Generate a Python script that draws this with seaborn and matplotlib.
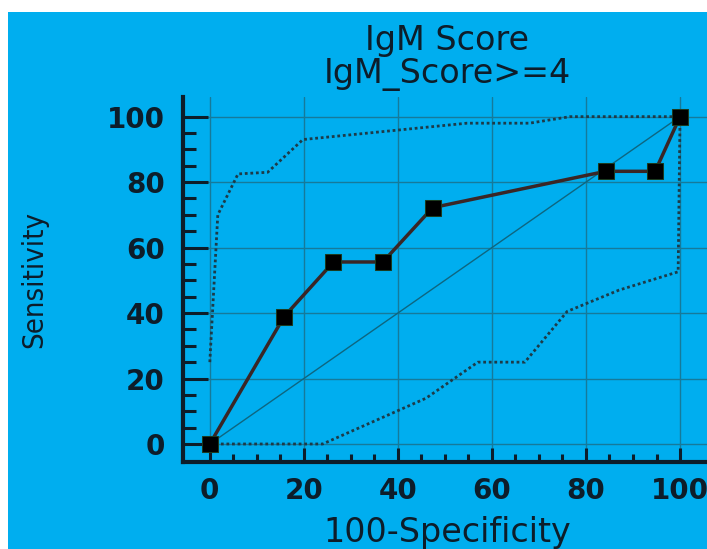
import numpy as np
import pandas as pd
import matplotlib.pyplot as plt
import seaborn as sns
from matplotlib.patches import Rectangle
from matplotlib.ticker import FixedLocator
from matplotlib import font_manager

# ROC curve points (100-Specificity, Sensitivity)
roc_x = [0, 15.8, 26.3, 36.8, 47.4, 84.2, 94.7, 100]
roc_y = [0, 38.9, 55.6, 55.6, 72.2, 83.3, 83.3, 100]

# confidence bounds (dotted)
upper_x = [0, 1.7, 6.0, 12.3, 19.8, 54.7, 68.0, 76.6, 100]
upper_y = [25, 70, 82.5, 83, 93, 98, 98, 100, 100]
lower_x = [0, 24, 46, 57, 67, 76, 87, 99.6, 100]
lower_y = [0, 0, 14, 25, 25, 40.5, 47, 52.6, 100]

diag = [0, 100]
ticks = [0, 20, 40, 60, 80, 100]
minor_ticks = [5, 10, 15, 25, 30, 35, 45, 50, 55, 65, 70, 75, 85, 90, 95]

blue = '#00AEEF'
ink = '#0d1d2a'
gridc = '#167a9a'

sns.set_style('ticks')
plt.rcParams['font.family'] = ['DejaVu Sans']

# upright condensed face for the y label, if one is installed
narrow = None
for f in font_manager.fontManager.ttflist:
    if ('Narrow' in f.name or 'Condensed' in f.fname or f.stretch in ('condensed', 'semi-condensed')) \
            and f.style == 'normal' and f.weight in (400, 'normal', 'regular') \
            and 'Mono' not in f.name and 'Serif' not in f.name:
        narrow = f.fname
        break

fig = plt.figure(figsize=(7.07, 5.49), dpi=100, facecolor='white')
fig.patches.append(Rectangle((8/707, 0), 1, 1 - 12/549, transform=fig.transFigure,
                             facecolor=blue, edgecolor='none', zorder=-10))
ax = fig.add_axes([183/707, 87/549, 529/707, 365/549])
ax.set_facecolor(blue)

ax.plot(diag, diag, color='#0e6680', lw=1, zorder=2)
sns.lineplot(x=upper_x, y=upper_y, estimator=None, sort=False, ax=ax,
             color='#1d3b48', lw=2, linestyle=(0, (1, 1)), zorder=3)
sns.lineplot(x=lower_x, y=lower_y, estimator=None, sort=False, ax=ax,
             color='#1d3b48', lw=2, linestyle=(0, (1, 1)), zorder=3)
sns.lineplot(x=roc_x, y=roc_y, estimator=None, sort=False, ax=ax,
             color='#3a2626', lw=2.5, marker='s', markersize=11,
             markerfacecolor='black', markeredgecolor='#1a3a20', zorder=5)

ax.set_xlim(-5.7, 106.8)
ax.set_ylim(-5.5, 106)
ax.set_xticks(ticks)
ax.set_yticks(ticks)
ax.xaxis.set_minor_locator(FixedLocator(minor_ticks))
ax.yaxis.set_minor_locator(FixedLocator(minor_ticks))
ax.grid(True, which='major', color=gridc, lw=1)

for s in ['top', 'right']:
    ax.spines[s].set_visible(False)
for s in ['left', 'bottom']:
    ax.spines[s].set_color(ink)
    ax.spines[s].set_linewidth(3)

ax.tick_params(axis='y', which='major', direction='in', length=18, width=2.2,
               color=ink, pad=13, labelsize=20, labelcolor=ink)
ax.tick_params(axis='y', which='minor', direction='in', length=9, width=2.2, color=ink)
ax.tick_params(axis='x', which='major', direction='in', length=10, width=2.2,
               color=ink, pad=11, labelsize=20, labelcolor=ink)
ax.tick_params(axis='x', which='minor', direction='in', length=6, width=2.2, color=ink)
for lab in ax.get_xticklabels() + ax.get_yticklabels():
    lab.set_fontweight('bold')

ax.set_xlabel('100-Specificity', fontsize=24, color=ink, labelpad=8)
if narrow:
    ax.set_ylabel('Sensitivity', color=ink, labelpad=42,
                  fontproperties=font_manager.FontProperties(fname=narrow, size=21))
else:
    ax.set_ylabel('Sensitivity', fontsize=18, color=ink, labelpad=42)
ax.set_title('IgM Score\nIgM_Score>=4', fontsize=24, color=ink, pad=10, linespacing=1.0)

plt.savefig('out.png', dpi=100, facecolor='white')
